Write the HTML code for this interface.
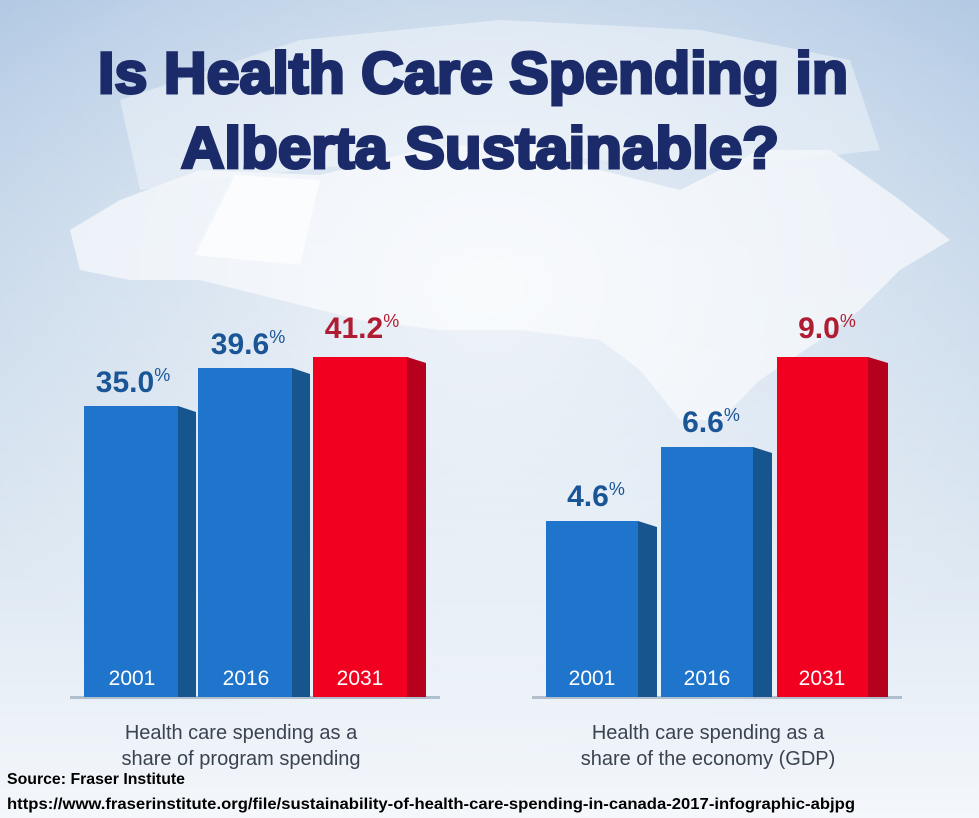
<!DOCTYPE html>
<html><head><style>
body{margin:0;width:979px;height:818px;overflow:hidden;font-family:"Liberation Sans",sans-serif}
</style></head><body>
<svg width="979" height="818" viewBox="0 0 979 818" xmlns="http://www.w3.org/2000/svg" style="display:block">
<defs>
<linearGradient id="bg" x1="0" y1="0" x2="0" y2="1">
<stop offset="0" stop-color="#b3cae4"/><stop offset="0.45" stop-color="#cddcec"/><stop offset="0.8" stop-color="#e6eef6"/><stop offset="1" stop-color="#f4f7fb"/>
</linearGradient>
<radialGradient id="glow" cx="0.5" cy="0.35" r="0.6">
<stop offset="0" stop-color="#ffffff" stop-opacity="0.7"/><stop offset="1" stop-color="#ffffff" stop-opacity="0"/>
</radialGradient>
</defs>
<rect width="979" height="818" fill="url(#bg)"/>
<path d="M70 230 L120 200 L200 170 L320 175 L420 150 L520 140 L600 170 L680 190 L760 150 L830 150 L900 200 L950 240 L900 270 L860 310 L820 340 L760 380 L720 420 L680 420 L640 370 L600 340 L520 330 L440 330 L360 320 L280 300 L200 280 L130 280 L80 270 Z" fill="#eef3f9" opacity="0.85"/>
<path d="M120 100 L300 40 L500 20 L700 30 L850 60 L880 150 L700 170 L500 150 L300 170 L140 190 Z" fill="#eef3f9" opacity="0.5"/>
<rect width="979" height="818" fill="url(#glow)"/>
<polygon points="235,175 320,180 300,265 195,255" fill="#fbfcfe"/>
<g font-family="'Liberation Sans',sans-serif" font-weight="bold" fill="#1b2a68" font-size="58" text-anchor="middle">
<text x="473" y="93" stroke="#1b2a68" stroke-width="3" textLength="750" lengthAdjust="spacingAndGlyphs">Is Health Care Spending in</text>
<text x="480" y="168" stroke="#1b2a68" stroke-width="3" textLength="598" lengthAdjust="spacingAndGlyphs">Alberta Sustainable?</text>
</g>
<g>
<rect x="70" y="696" width="370" height="3" fill="#8a9cb0" opacity="0.6"/>
<rect x="532" y="696" width="370" height="3" fill="#8a9cb0" opacity="0.6"/>
<polygon points="178,406 196,412 196,697 178,697" fill="#17558f"/>
<rect x="84" y="406" width="94" height="291" fill="#1f74cc"/>
<polygon points="292,368 310,374 310,697 292,697" fill="#17558f"/>
<rect x="198" y="368" width="94" height="329" fill="#1f74cc"/>
<polygon points="407,357 426,363 426,697 407,697" fill="#b5001e"/>
<rect x="313" y="357" width="94" height="340" fill="#f2001f"/>
<polygon points="638,521 657,527 657,697 638,697" fill="#17558f"/>
<rect x="546" y="521" width="92" height="176" fill="#1f74cc"/>
<polygon points="753,447 772,453 772,697 753,697" fill="#17558f"/>
<rect x="661" y="447" width="92" height="250" fill="#1f74cc"/>
<polygon points="868,357 888,363 888,697 868,697" fill="#b5001e"/>
<rect x="777" y="357" width="91" height="340" fill="#f2001f"/>
</g>
<g fill="#fff" font-size="21" text-anchor="middle">
<text x="132" y="685">2001</text><text x="246" y="685">2016</text><text x="360" y="685">2031</text>
<text x="592" y="685">2001</text><text x="707" y="685">2016</text><text x="822" y="685">2031</text>
</g>
<g font-weight="bold" font-size="30" text-anchor="middle">
<text x="133" y="392" fill="#1a5596">35.0<tspan font-size="18" font-weight="normal" dy="-11">%</tspan></text>
<text x="248" y="354" fill="#1a5596">39.6<tspan font-size="18" font-weight="normal" dy="-11">%</tspan></text>
<text x="362" y="338" fill="#b01d32">41.2<tspan font-size="18" font-weight="normal" dy="-11">%</tspan></text>
<text x="596" y="506" fill="#1a5596">4.6<tspan font-size="18" font-weight="normal" dy="-11">%</tspan></text>
<text x="711" y="432" fill="#1a5596">6.6<tspan font-size="18" font-weight="normal" dy="-11">%</tspan></text>
<text x="827" y="338" fill="#b01d32">9.0<tspan font-size="18" font-weight="normal" dy="-11">%</tspan></text>
</g>
<g fill="#3a4350" font-size="20" text-anchor="middle">
<text x="241" y="739">Health care spending as a</text>
<text x="241" y="765">share of program spending</text>
<text x="708" y="739">Health care spending as a</text>
<text x="708" y="765">share of the economy (GDP)</text>
</g>
<g fill="#000" font-weight="bold" font-size="16">
<text x="7" y="784" textLength="178" lengthAdjust="spacingAndGlyphs">Source: Fraser Institute</text>
<text x="7" y="809" textLength="848" lengthAdjust="spacingAndGlyphs">https://www.fraserinstitute.org/file/sustainability-of-health-care-spending-in-canada-2017-infographic-abjpg</text>
</g>
</svg>
</body></html>
